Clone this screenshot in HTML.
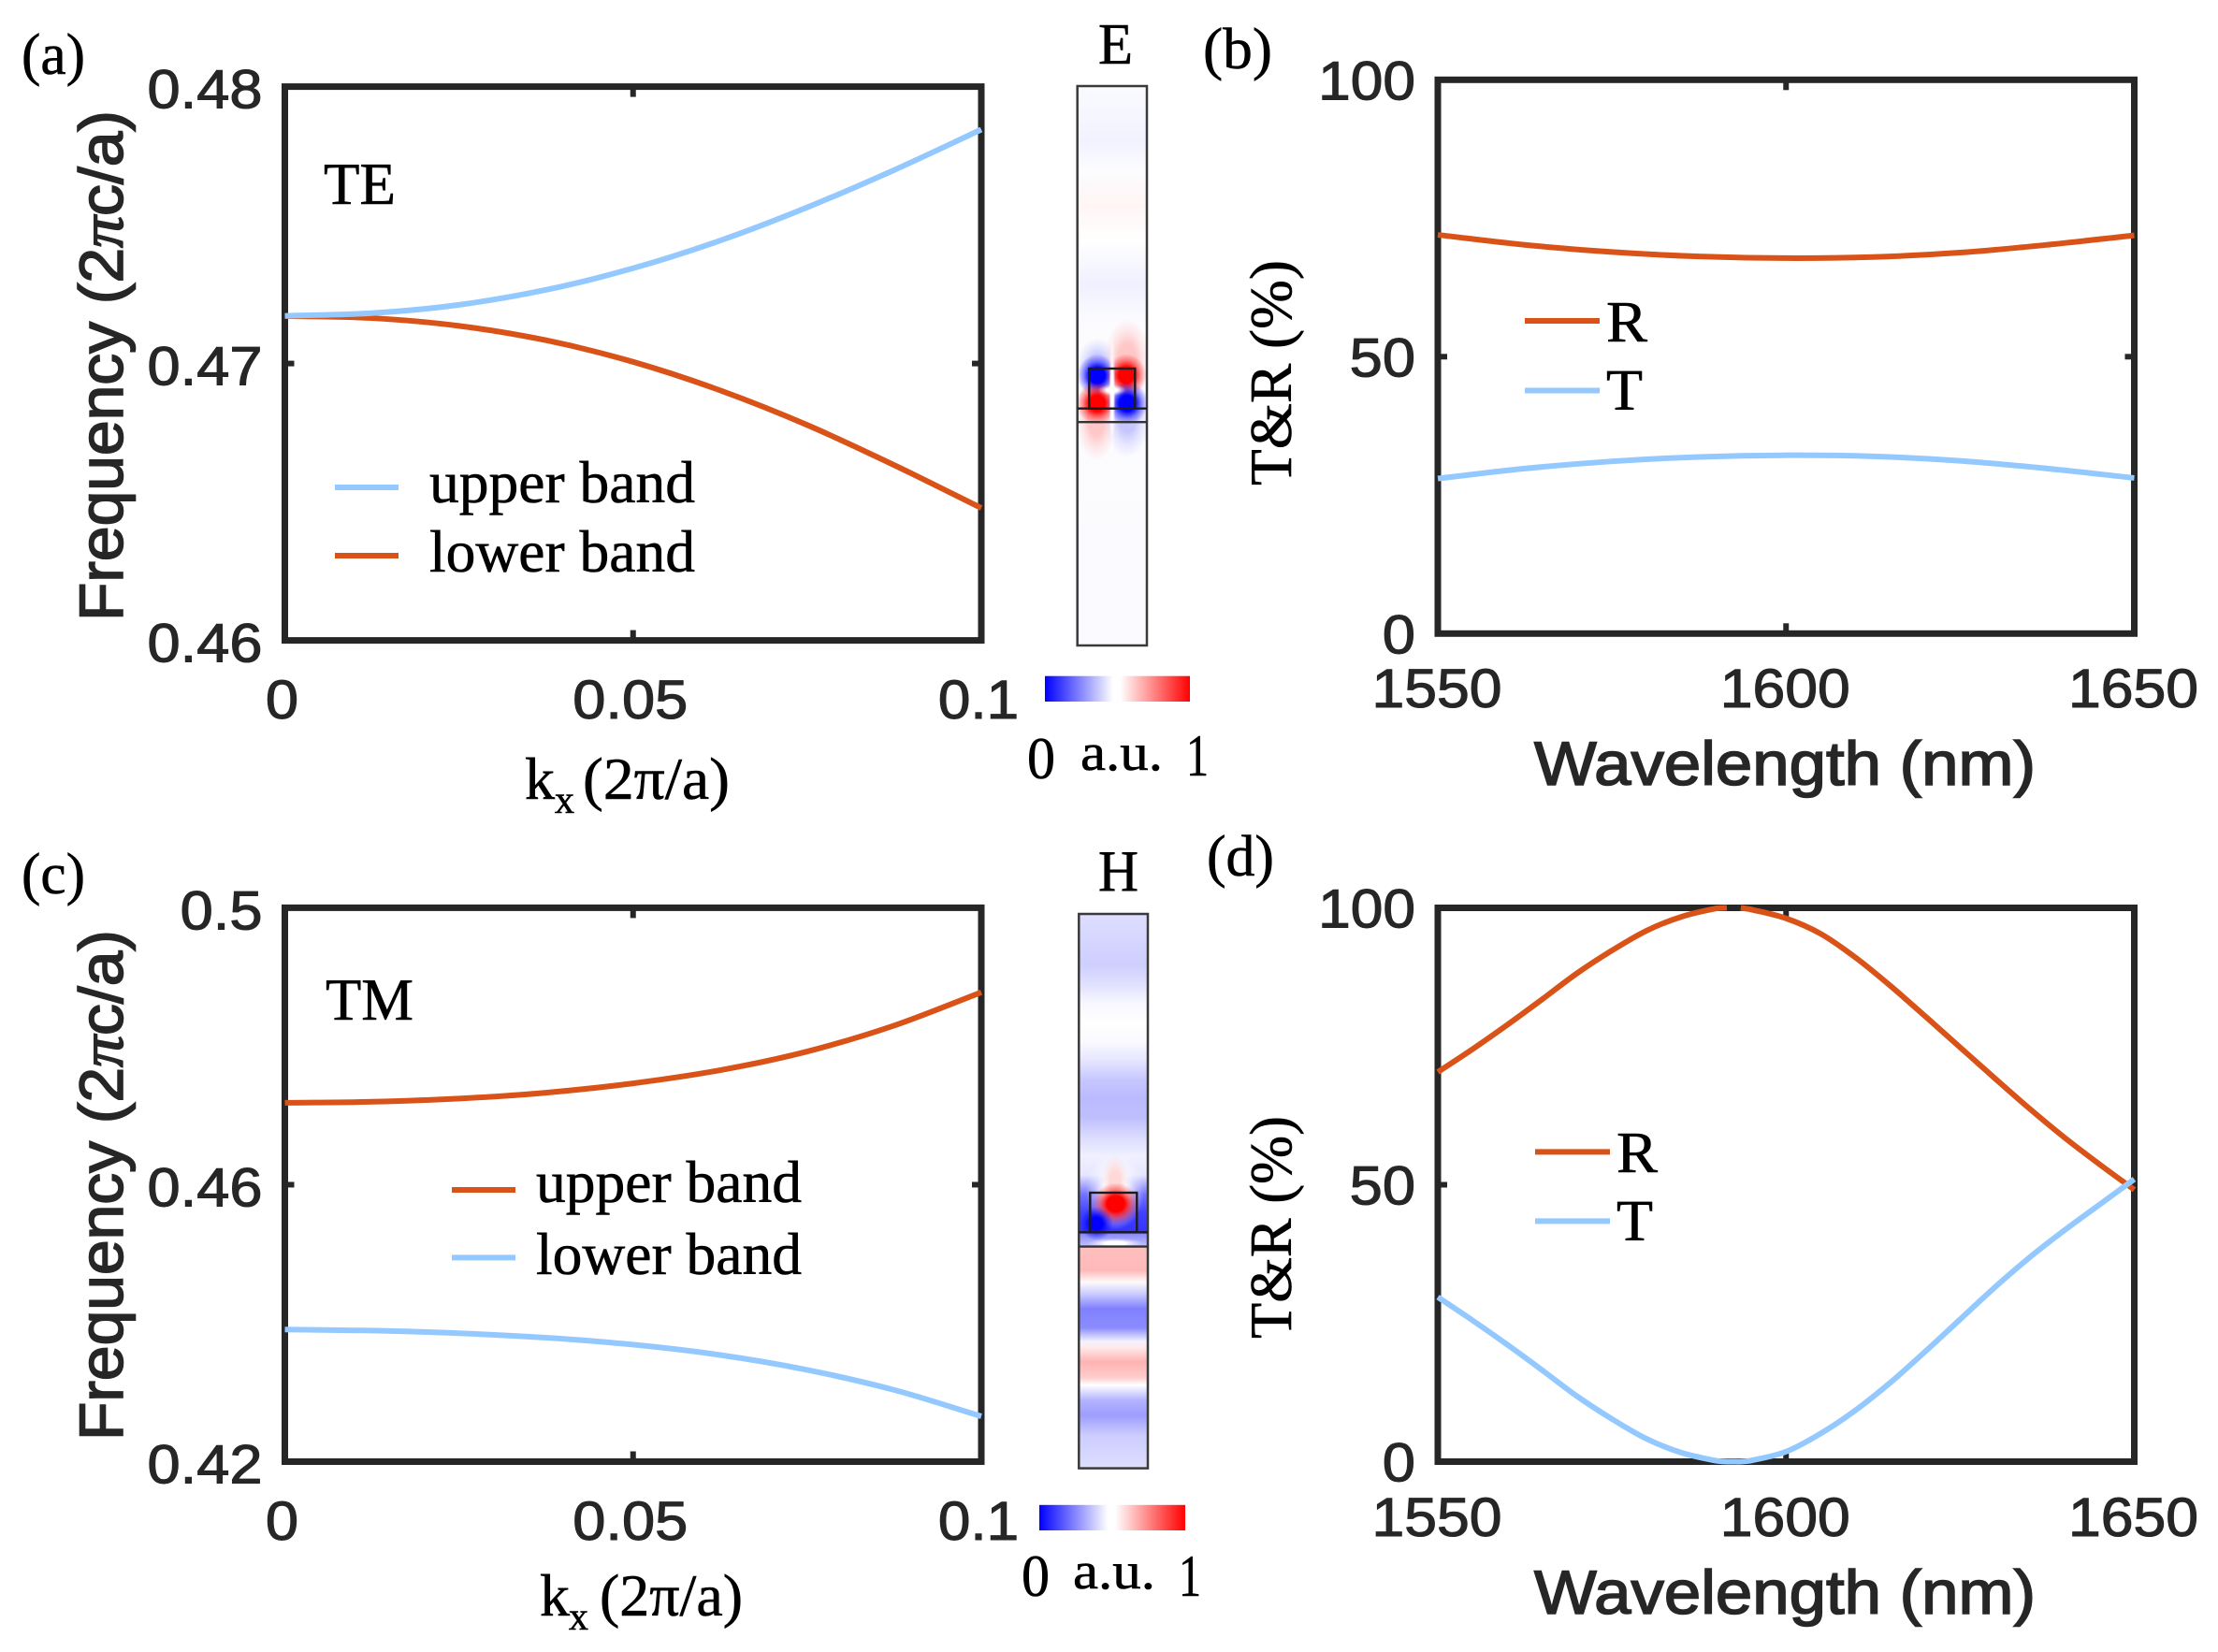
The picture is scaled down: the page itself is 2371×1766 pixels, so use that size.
<!DOCTYPE html>
<html lang="en">
<head>
<meta charset="utf-8">
<title>Band structure and transmission charts</title>
<style>
html,body{margin:0;padding:0;background:#fff;}
svg{display:block;}
.serif{font-family:"Liberation Serif","DejaVu Serif",serif;fill:#000;stroke:#000;stroke-width:0.6px;}
.sans{font-family:"Liberation Sans","DejaVu Sans",sans-serif;fill:#262626;stroke:#262626;stroke-width:1.1px;}
.title{stroke-width:1.6px;}
</style>
</head>
<body>
<svg id="figure" xmlns="http://www.w3.org/2000/svg" width="2371" height="1766" viewBox="0 0 2371 1766">
  <defs id="defs">
    <clipPath id="clip-e"><rect x="1151.7" y="92" width="74.3" height="598"/></clipPath>
    <clipPath id="clip-h"><rect x="1153.3" y="977" width="73.7" height="592.6"/></clipPath>
    <linearGradient id="cbar-grad" x1="0" x2="1" y1="0" y2="0">
      <stop offset="0" stop-color="#0000ff"/>
      <stop offset="0.47" stop-color="#ffffff"/>
      <stop offset="0.52" stop-color="#ffffff"/>
      <stop offset="1" stop-color="#ff0000"/>
    </linearGradient>
  </defs>

  <rect x="0" y="0" width="2371" height="1766" fill="#ffffff"/>

  <g id="panels"></g>
  <g id="fields"></g>

  <!-- panel letters -->
  <text class="serif" x="23" y="79" font-size="62" textLength="68" lengthAdjust="spacingAndGlyphs">(a)</text>
  <text class="serif" x="1286" y="73" font-size="62" textLength="74" lengthAdjust="spacingAndGlyphs">(b)</text>
  <text class="serif" x="23" y="955" font-size="62" textLength="68" lengthAdjust="spacingAndGlyphs">(c)</text>
  <text class="serif" x="1290" y="936" font-size="62" textLength="72" lengthAdjust="spacingAndGlyphs">(d)</text>

  <!-- panel a text -->
  <text class="serif" x="346" y="218" font-size="64" textLength="77" lengthAdjust="spacingAndGlyphs">TE</text>
  <text class="serif" x="459" y="537" font-size="63" textLength="284" lengthAdjust="spacingAndGlyphs">upper band</text>
  <text class="serif" x="459" y="611" font-size="63" textLength="284" lengthAdjust="spacingAndGlyphs">lower band</text>
  <text class="serif" x="561" y="854" font-size="64">k</text>
  <text class="serif" x="593" y="869" font-size="42">x</text>
  <text class="serif" x="623" y="854" font-size="64" textLength="157" lengthAdjust="spacingAndGlyphs">(2π/a)</text>
  <text class="sans title" transform="translate(131,664) rotate(-90)" font-size="66" textLength="546" lengthAdjust="spacingAndGlyphs">Frequency (2<tspan font-family="Liberation Serif" font-style="italic">π</tspan>c/a)</text>

  <!-- panel c text -->
  <text class="serif" x="348" y="1090" font-size="64" textLength="94" lengthAdjust="spacingAndGlyphs">TM</text>
  <text class="serif" x="573" y="1285" font-size="63" textLength="284" lengthAdjust="spacingAndGlyphs">upper band</text>
  <text class="serif" x="573" y="1362" font-size="63" textLength="284" lengthAdjust="spacingAndGlyphs">lower band</text>
  <text class="serif" x="577" y="1727" font-size="64">k</text>
  <text class="serif" x="608" y="1742" font-size="42">x</text>
  <text class="serif" x="641" y="1727" font-size="64" textLength="153" lengthAdjust="spacingAndGlyphs">(2π/a)</text>
  <text class="sans title" transform="translate(131,1540) rotate(-90)" font-size="66" textLength="546" lengthAdjust="spacingAndGlyphs">Frequency (2<tspan font-family="Liberation Serif" font-style="italic">π</tspan>c/a)</text>

  <!-- panel b text -->
  <text class="serif" x="1717" y="365" font-size="62" textLength="44" lengthAdjust="spacingAndGlyphs">R</text>
  <text class="serif" x="1717" y="438" font-size="62" textLength="39" lengthAdjust="spacingAndGlyphs">T</text>
  <text class="sans title" x="1640" y="839" font-size="66" textLength="536" lengthAdjust="spacingAndGlyphs">Wavelength (nm)</text>
  <text class="serif" transform="translate(1380,519) rotate(-90)" font-size="64" textLength="241" lengthAdjust="spacingAndGlyphs">T&amp;R (%)</text>

  <!-- panel d text -->
  <text class="serif" x="1728" y="1253" font-size="62" textLength="44" lengthAdjust="spacingAndGlyphs">R</text>
  <text class="serif" x="1728" y="1326" font-size="62" textLength="39" lengthAdjust="spacingAndGlyphs">T</text>
  <text class="sans title" x="1640" y="1725" font-size="66" textLength="536" lengthAdjust="spacingAndGlyphs">Wavelength (nm)</text>
  <text class="serif" transform="translate(1380,1431) rotate(-90)" font-size="64" textLength="238" lengthAdjust="spacingAndGlyphs">T&amp;R (%)</text>

  <!-- field map captions and colour bars -->
  <text class="serif" x="1174" y="68" font-size="62" textLength="37" lengthAdjust="spacingAndGlyphs">E</text>
  <text class="serif" x="1174" y="952" font-size="62" textLength="43" lengthAdjust="spacingAndGlyphs">H</text>
  <rect x="1117" y="722.7" width="155" height="27.3" fill="url(#cbar-grad)"/>
  <rect x="1111" y="1608.8" width="156" height="27.2" fill="url(#cbar-grad)"/>
  <text class="serif" x="1098" y="832" font-size="64" textLength="30" lengthAdjust="spacingAndGlyphs">0</text>
  <text class="serif" x="1155" y="823" font-size="56" textLength="88" lengthAdjust="spacingAndGlyphs">a.u.</text>
  <text class="serif" x="1268" y="829" font-size="64" textLength="24" lengthAdjust="spacingAndGlyphs">1</text>
  <text class="serif" x="1092" y="1706" font-size="64" textLength="30" lengthAdjust="spacingAndGlyphs">0</text>
  <text class="serif" x="1147" y="1698" font-size="56" textLength="88" lengthAdjust="spacingAndGlyphs">a.u.</text>
  <text class="serif" x="1260" y="1706" font-size="64" textLength="24" lengthAdjust="spacingAndGlyphs">1</text>
</svg>

<script>
// ---------- chart data ----------
const bandK = [0, 0.0125, 0.025, 0.0375, 0.05, 0.0625, 0.075, 0.0875, 0.1];
const teUpper = [0.47172, 0.47182, 0.47212, 0.47266, 0.47344, 0.47444, 0.47564, 0.47699, 0.47845];
const teLower = [0.47172, 0.47164, 0.47136, 0.47084, 0.47006, 0.46903, 0.46778, 0.46633, 0.46478];
const tmUpper = [0.47183, 0.47198, 0.47244, 0.47329, 0.47464, 0.47654, 0.47924, 0.48299, 0.48779];
const tmLower = [0.43908, 0.43893, 0.43855, 0.4379, 0.4369, 0.4354, 0.43325, 0.43035, 0.42655];

const wavelengthB = [1550, 1562.5, 1575, 1587.5, 1600, 1612.5, 1625, 1637.5, 1650];
const reflectB = [72.0, 70.2, 68.9, 68.1, 67.8, 68.0, 68.8, 70.2, 71.9];
const transmitB = [28.0, 29.8, 31.1, 31.9, 32.2, 32.0, 31.2, 29.8, 28.1];

const wavelengthD = [1550, 1555, 1560, 1565, 1570, 1575, 1580, 1585, 1590, 1591.5, 1592.5, 1593.5, 1595, 1600, 1605, 1610, 1615, 1620, 1625, 1630, 1635, 1640, 1645, 1650];
// the reflectance peak just exceeds the axis limit, so the line is cut there
const reflectD = [70.35, 74.5, 78.9, 83.5, 88.2, 92.3, 95.9, 98.4, 99.9, 100, 100.3, 100, 99.7, 98.1, 95.3, 91, 85.9, 80.4, 74.8, 69.2, 63.7, 58.5, 53.7, 49.1];
const transmitD = [29.7, 25.5, 21.1, 16.5, 11.8, 7.7, 4.1, 1.6, 0.15, 0, 0, 0, 0.2, 1.8, 5.1, 9.3, 14.3, 19.9, 25.7, 31.5, 36.9, 41.8, 46.4, 51];

const bandKTicks = [0, 0.05, 0.1];
const bandKLabels = ['0', '0.05', '0.1'];
const teFreqTicks = [0.46, 0.47, 0.48];
const teFreqLabels = ['0.46', '0.47', '0.48'];
const tmFreqTicks = [0.42, 0.46, 0.5];
const tmFreqLabels = ['0.42', '0.46', '0.5'];
const wlTicks = [1550, 1600, 1650];
const wlLabels = ['1550', '1600', '1650'];
const percentTicks = [0, 50, 100];
const percentLabels = ['0', '50', '100'];

// field maps: amplitude (-1 blue .. 1 red) by normalised depth
const eRowDepth = [0, 0.1, 0.15, 0.214, 0.277, 0.354, 0.425, 0.65, 1];
const eRowValue = [-0.02, -0.05, -0.01, 0.04, 0, -0.06, -0.01, -0.01, -0.02];
const hRowDepth = [0, 0.058, 0.092, 0.127, 0.161, 0.196, 0.23, 0.264, 0.299, 0.333, 0.368, 0.402, 0.437, 0.471, 0.506, 0.54, 0.574, 0.578, 0.5985, 0.602, 0.643, 0.664, 0.685, 0.712, 0.7466, 0.771, 0.781, 0.808, 0.836, 0.85, 0.877, 0.905, 0.94, 1];
const hRowValue = [-0.13, -0.17, -0.19, -0.12, -0.03, 0, -0.02, -0.1, -0.22, -0.27, -0.25, -0.14, -0.06, -0.1, -0.55, -0.75, -0.8, -0.45, -0.25, 0.25, 0.28, 0.02, -0.2, -0.5, -0.45, -0.05, 0.08, 0.3, 0.2, 0, -0.3, -0.38, -0.2, -0.13];

// localised field lobes, in normalised panel coordinates
const eSpotU = [0.287, 0.717, 0.273, 0.717, 0.287, 0.704, 0.283, 0.717, 0.5, 0.5];
const eSpotV = [0.5, 0.49, 0.595, 0.59, 0.5176, 0.5167, 0.567, 0.567, 0.55, 0.5435];
const eSpotRu = [0.3, 0.33, 0.3, 0.33, 0.29, 0.29, 0.3, 0.3, 0.05, 0.2];
const eSpotRv = [0.05, 0.075, 0.075, 0.075, 0.038, 0.038, 0.038, 0.038, 0.12, 0.01];
const eSpotValue = [-0.22, 0.22, 0.22, -0.22, -1, 1, 1, -1, 0, 0];
const hSpotU = [0.525, 0.525, 0.535, 0.254, 0.525];
const hSpotV = [0.5, 0.481, 0.523, 0.5586, 0.594];
const hSpotRu = [0.42, 0.2, 0.34, 0.24, 0.41];
const hSpotRv = [0.07, 0.047, 0.038, 0.03, 0.009];
const hSpotValue = [0, 0.15, 1, -1, 0];

// ---------- helpers ----------
const SVG_NS = 'http://www.w3.org/2000/svg';
const ORANGE = '#D95318';
const BLUE = '#94C9FF';
const INK = '#262626';

function make(tag, attrs, parent) {
  const el = document.createElementNS(SVG_NS, tag);
  for (const k in attrs) el.setAttribute(k, attrs[k]);
  parent.appendChild(el);
  return el;
}
function linear(d0, d1, r0, r1) {
  return function (v) { return r0 + (v - d0) / (d1 - d0) * (r1 - r0); };
}
// Smooth path through the in-range points; out-of-range points break the line.
function smoothPath(xs, ys, sx, sy, yMax) {
  const runs = [];
  let run = [];
  xs.forEach(function (x, i) {
    if (ys[i] > yMax) {
      if (run.length) runs.push(run);
      run = [];
    } else {
      run.push([sx(x), sy(ys[i])]);
    }
  });
  if (run.length) runs.push(run);
  let d = '';
  runs.forEach(function (p) {
    d += 'M' + p[0][0].toFixed(2) + ' ' + p[0][1].toFixed(2);
    const slope = function (i) {
      const a = p[Math.max(i - 1, 0)], c = p[Math.min(i + 1, p.length - 1)];
      return (c[1] - a[1]) / (c[0] - a[0]);
    };
    for (let i = 0; i < p.length - 1; i++) {
      const b = p[i], c = p[i + 1], h = (c[0] - b[0]) / 3;
      d += ' C' + (b[0] + h).toFixed(2) + ' ' + (b[1] + slope(i) * h).toFixed(2) +
           ' ' + (c[0] - h).toFixed(2) + ' ' + (c[1] - slope(i + 1) * h).toFixed(2) +
           ' ' + c[0].toFixed(2) + ' ' + c[1].toFixed(2);
    }
  });
  return d;
}
function labelWidth(s, size) {
  let w = 0;
  for (const ch of s) w += ch === '.' ? 0.278 : (ch === '1' ? 0.53 : 0.556);
  return w * size * 1.09;
}
function fieldColor(v) {
  const a = Math.max(-1, Math.min(1, v));
  const g = Math.round(255 * (1 - Math.abs(a)));
  return a < 0 ? 'rgb(' + g + ',' + g + ',255)' : 'rgb(255,' + g + ',' + g + ')';
}

// ---------- chart panels ----------
const panelRoot = document.getElementById('panels');

function drawPanel(cfg) {
  const g = make('g', {}, panelRoot);
  
  
  const sx = linear(cfg.xDomain[0], cfg.xDomain[1], cfg.left, cfg.right);
  const sy = linear(cfg.yDomain[0], cfg.yDomain[1], cfg.bottom, cfg.top);

  const frame = make('rect', { x: cfg.left, y: cfg.top, width: cfg.right - cfg.left, height: cfg.bottom - cfg.top, fill: 'none', stroke: INK, 'stroke-width': 7 }, g);
  
  

  cfg.xTicks.forEach(function (t, i) {
    const x = sx(t);
    if (i > 0 && i < cfg.xTicks.length - 1) {
      const tb = make('line', { x1: x, x2: x, y1: cfg.bottom, y2: cfg.bottom - 11, stroke: INK, 'stroke-width': 6 }, g);
      
      
      const tt = make('line', { x1: x, x2: x, y1: cfg.top, y2: cfg.top + 11, stroke: INK, 'stroke-width': 6 }, g);
      
      
    }
    const lab = make('text', { x: x + cfg.xLabelDx, y: cfg.xLabelY, 'font-size': 58, 'text-anchor': 'middle', textLength: labelWidth(cfg.xLabels[i], 58).toFixed(1), lengthAdjust: 'spacingAndGlyphs', class: 'sans' }, g);
    lab.textContent = cfg.xLabels[i];
    
    
  });

  cfg.yTicks.forEach(function (t, i) {
    const y = sy(t);
    if (i > 0 && i < cfg.yTicks.length - 1) {
      const tl = make('line', { x1: cfg.left, x2: cfg.left + 10, y1: y, y2: y, stroke: INK, 'stroke-width': 6 }, g);
      
      
      const tr = make('line', { x1: cfg.right, x2: cfg.right - 10, y1: y, y2: y, stroke: INK, 'stroke-width': 6 }, g);
      
      
    }
    const lab = make('text', { x: cfg.left - 24, y: y + cfg.yLabelDy, 'font-size': 58, 'text-anchor': 'end', textLength: labelWidth(cfg.yLabels[i], 58).toFixed(1), lengthAdjust: 'spacingAndGlyphs', class: 'sans' }, g);
    lab.textContent = cfg.yLabels[i];
    
    
  });

  cfg.series.forEach(function (s) {
    const path = make('path', { d: smoothPath(cfg.xs, s.values, sx, sy, cfg.yDomain[1]), fill: 'none', stroke: s.color, 'stroke-width': 6 }, g);
    
    
    const key = make('line', { x1: s.key[0], x2: s.key[1], y1: s.key[2], y2: s.key[2], stroke: s.color, 'stroke-width': 6 }, g);
    
    
  });
}

drawPanel({
  id: 'a', left: 304.5, right: 1049, top: 92.6, bottom: 684.6,
  xDomain: [0, 0.1], yDomain: [0.46, 0.48], xs: bandK,
  xTicks: bandKTicks, xLabels: bandKLabels, yTicks: teFreqTicks, yLabels: teFreqLabels,
  xLabelDx: -3, xLabelY: 768, yLabelDy: 23,
  series: [
    { name: 'lower-band', values: teLower, color: ORANGE, key: [358, 426, 594] },
    { name: 'upper-band', values: teUpper, color: BLUE, key: [358, 426, 521] }
  ]
});
drawPanel({
  id: 'b', left: 1537, right: 2281.5, top: 85.3, bottom: 677.3,
  xDomain: [1550, 1650], yDomain: [0, 100], xs: wavelengthB,
  xTicks: wlTicks, xLabels: wlLabels, yTicks: percentTicks, yLabels: percentLabels,
  xLabelDx: -1, xLabelY: 756, yLabelDy: 21,
  series: [
    { name: 'reflectance', values: reflectB, color: ORANGE, key: [1630, 1710, 343] },
    { name: 'transmittance', values: transmitB, color: BLUE, key: [1630, 1710, 417.5] }
  ]
});
drawPanel({
  id: 'c', left: 304.5, right: 1049, top: 970.4, bottom: 1562.5,
  xDomain: [0, 0.1], yDomain: [0.42, 0.5], xs: bandK,
  xTicks: bandKTicks, xLabels: bandKLabels, yTicks: tmFreqTicks, yLabels: tmFreqLabels,
  xLabelDx: -3, xLabelY: 1646, yLabelDy: 23,
  series: [
    { name: 'upper-band', values: tmUpper, color: ORANGE, key: [483, 551, 1272] },
    { name: 'lower-band', values: tmLower, color: BLUE, key: [483, 551, 1344.4] }
  ]
});
drawPanel({
  id: 'd', left: 1537, right: 2281.5, top: 970.5, bottom: 1562.5,
  xDomain: [1550, 1650], yDomain: [0, 100], xs: wavelengthD,
  xTicks: wlTicks, xLabels: wlLabels, yTicks: percentTicks, yLabels: percentLabels,
  xLabelDx: -1, xLabelY: 1642, yLabelDy: 21,
  series: [
    { name: 'reflectance', values: reflectD, color: ORANGE, key: [1641, 1721, 1231.4] },
    { name: 'transmittance', values: transmitD, color: BLUE, key: [1641, 1721, 1305.4] }
  ]
});

// ---------- field maps ----------
const fieldRoot = document.getElementById('fields');
const defsRoot = document.getElementById('defs');

function drawField(cfg) {
  const g = make('g', { 'clip-path': 'url(#' + cfg.clip + ')' }, fieldRoot);
  
  

  const grad = make('linearGradient', { id: cfg.id + '-rows', x1: 0, x2: 0, y1: 0, y2: 1 }, defsRoot);
  cfg.rowDepth.forEach(function (d, i) {
    make('stop', { offset: d, 'stop-color': fieldColor(cfg.rowValue[i]) }, grad);
  });
  const bg = make('rect', { x: cfg.left, y: cfg.top, width: cfg.w, height: cfg.h, fill: 'url(#' + cfg.id + '-rows)' }, g);
  
  

  cfg.spotU.forEach(function (u, i) {
    const id = cfg.id + '-spot-' + i;
    const col = fieldColor(cfg.spotValue[i]);
    const rg = make('radialGradient', { id: id }, defsRoot);
    make('stop', { offset: 0, 'stop-color': col, 'stop-opacity': 1 }, rg);
    make('stop', { offset: 0.38, 'stop-color': col, 'stop-opacity': 1 }, rg);
    make('stop', { offset: 0.68, 'stop-color': col, 'stop-opacity': 0.42 }, rg);
    make('stop', { offset: 1, 'stop-color': col, 'stop-opacity': 0 }, rg);
    const sp = make('ellipse', {
      cx: cfg.left + u * cfg.w, cy: cfg.top + cfg.spotV[i] * cfg.h,
      rx: cfg.spotRu[i] * cfg.w, ry: cfg.spotRv[i] * cfg.h, fill: 'url(#' + id + ')'
    }, g);
    
    
  });

  const outline = make('g', { fill: 'none', stroke: '#1c1c1c', 'stroke-width': 2.4 }, fieldRoot);
  
  

  const border = make('rect', { x: cfg.left, y: cfg.top, width: cfg.w, height: cfg.h, stroke: '#3a3a3a', 'stroke-width': 2.5 }, outline);
  
  

  const ridge = make('rect', { x: cfg.ridge[0], y: cfg.ridge[2], width: cfg.ridge[1] - cfg.ridge[0], height: cfg.line1 - cfg.ridge[2] }, outline);
  
  

  const l1 = make('line', { x1: cfg.left, x2: cfg.left + cfg.w, y1: cfg.line1, y2: cfg.line1 }, outline);
  
  

  const l2 = make('line', { x1: cfg.left, x2: cfg.left + cfg.w, y1: cfg.line2, y2: cfg.line2, stroke: '#333' }, outline);
  
  
}

drawField({
  id: 'e', clip: 'clip-e', left: 1151.7, top: 92, w: 74.3, h: 598,
  rowDepth: eRowDepth, rowValue: eRowValue,
  spotU: eSpotU, spotV: eSpotV, spotRu: eSpotRu, spotRv: eSpotRv, spotValue: eSpotValue,
  ridge: [1164.3, 1213.3, 394], line1: 436.7, line2: 451.2
});
drawField({
  id: 'h', clip: 'clip-h', left: 1153.3, top: 977, w: 73.7, h: 592.6,
  rowDepth: hRowDepth, rowValue: hRowValue,
  spotU: hSpotU, spotV: hSpotV, spotRu: hSpotRu, spotRv: hSpotRv, spotValue: hSpotValue,
  ridge: [1165.3, 1215.3, 1275], line1: 1317.3, line2: 1332.6
});
</script>
</body>
</html>
